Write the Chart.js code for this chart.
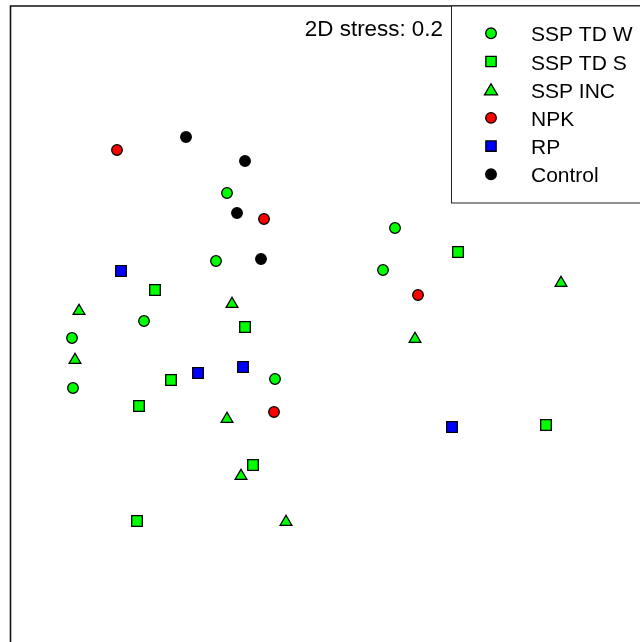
<!DOCTYPE html>
<html>
<head>
<meta charset="utf-8">
<script src="https://cdn.jsdelivr.net/npm/chart.js@4.4.1/dist/chart.umd.min.js"></script>
<style>
  html, body { margin: 0; padding: 0; background: #fff; }
  #wrap { width: 640px; height: 642px; position: relative; }
</style>
</head>
<body>
<div id="wrap"><canvas id="nmds"></canvas></div>
<script>
// NMDS scores (NMDS1, NMDS2)
const groups = ['SSP TD W', 'SSP TD S', 'SSP INC', 'NPK', 'RP', 'Control'];

const sspTdWX = [-0.73, -0.84, -1.56, -2.28, -0.25, -2.27, 0.95, 0.83];
const sspTdWY = [1.37, 0.69, 0.09, -0.08, -0.49, -0.58, 1.02, 0.60];

const sspTdSX = [-1.45, -0.55, -1.29, -1.61, 1.58, 2.46, -0.47, -1.63];
const sspTdSY = [0.40, 0.03, -0.50, -0.76, 0.78, -0.95, -1.35, -1.91];

const sspIncX = [-2.21, -0.68, -2.25, -0.73, 2.61, 1.15, -0.59, -0.14];
const sspIncY = [0.19, 0.26, -0.30, -0.89, 0.47, -0.09, -1.46, -1.92];

const npkX = [-1.83, -0.36, -0.26, 1.18];
const npkY = [1.80, 1.11, -0.82, 0.35];

const rpX = [-1.79, -1.02, -0.57, 1.52];
const rpY = [0.59, -0.43, -0.37, -0.97];

const controlX = [-1.14, -0.55, -0.63, -0.39];
const controlY = [1.93, 1.69, 1.17, 0.71];

const stressText = '2D stress: 0.2';

function pts(xs, ys) {
    return xs.map((x, i) => ({ x: x, y: ys[i] }));
}

const styles = [
    { color: '#00ff00', shape: 'circle', r: 5.3, lr: 5.3 },
    { color: '#00ff00', shape: 'rect', r: 7.5, lr: 7.3 },
    { color: '#00ff00', shape: 'triangle', r: 6.8, lr: 7.5 },
    { color: '#ff0000', shape: 'circle', r: 5.3, lr: 5.3 },
    { color: '#0000ff', shape: 'rect', r: 7.5, lr: 7.3 },
    { color: '#000000', shape: 'circle', r: 5.3, lr: 5.3 }
];

const series = [
    pts(sspTdWX, sspTdWY),
    pts(sspTdSX, sspTdSY),
    pts(sspIncX, sspIncY),
    pts(npkX, npkY),
    pts(rpX, rpY),
    pts(controlX, controlY)
];

const datasets = groups.map((g, i) => ({
    label: g,
    data: series[i],
    pointStyle: styles[i].shape,
    pointRadius: styles[i].r,
    pointHoverRadius: styles[i].r,
    backgroundColor: styles[i].color,
    borderColor: '#000',
    borderWidth: 1.3
}));

// frame, stress label and the boxed legend
const extras = {
    id: 'extras',
    afterDatasetsDraw(chart) {
        const ctx = chart.ctx;
        const a = chart.chartArea;
        ctx.save();
        ctx.strokeStyle = '#111';
        ctx.lineWidth = 1.6;
        ctx.beginPath();
        ctx.moveTo(a.left + 0.5, a.bottom + 5);
        ctx.lineTo(a.left + 0.5, a.top);
        ctx.lineTo(a.right + 5, a.top);
        ctx.stroke();

        ctx.font = '22.4px "Liberation Sans", Arial, sans-serif';
        ctx.fillStyle = '#000';
        ctx.textAlign = 'right';
        ctx.textBaseline = 'alphabetic';
        ctx.fillText(stressText, 443, 36);

        // legend box
        ctx.fillStyle = '#fff';
        ctx.fillRect(451, a.top, 200, 197);
        ctx.strokeStyle = '#222';
        ctx.lineWidth = 1;
        ctx.strokeRect(451.5, a.top, 200, 197);

        ctx.font = '21px "Liberation Sans", Arial, sans-serif';
        ctx.textAlign = 'left';
        groups.forEach((g, i) => {
            const y = 33.3 + i * 28.2;
            ctx.fillStyle = styles[i].color;
            ctx.strokeStyle = '#000';
            ctx.lineWidth = 1.3;
            Chart.helpers.drawPoint(ctx, {
                pointStyle: styles[i].shape,
                radius: styles[i].lr,
                rotation: 0,
                borderWidth: 1.3
            }, 491, y + (styles[i].shape === 'triangle' ? 1.5 : 0));
            ctx.fillStyle = '#000';
            ctx.fillText(g, 531, y + 8);
        });
        ctx.restore();
    }
};

new Chart(document.getElementById('nmds'), {
    type: 'scatter',
    data: { datasets: datasets },
    options: {
        responsive: true,
        maintainAspectRatio: false,
        animation: false,
        layout: { autoPadding: false, padding: { left: 10, top: 6, right: 0, bottom: 0 } },
        scales: {
            x: { type: 'linear', min: -2.9, max: 3.4, display: false },
            y: { type: 'linear', min: -3.12, max: 3.24, display: false }
        },
        plugins: {
            legend: { display: false },
            tooltip: { enabled: false }
        }
    },
    plugins: [extras]
});
</script>
</body>
</html>
